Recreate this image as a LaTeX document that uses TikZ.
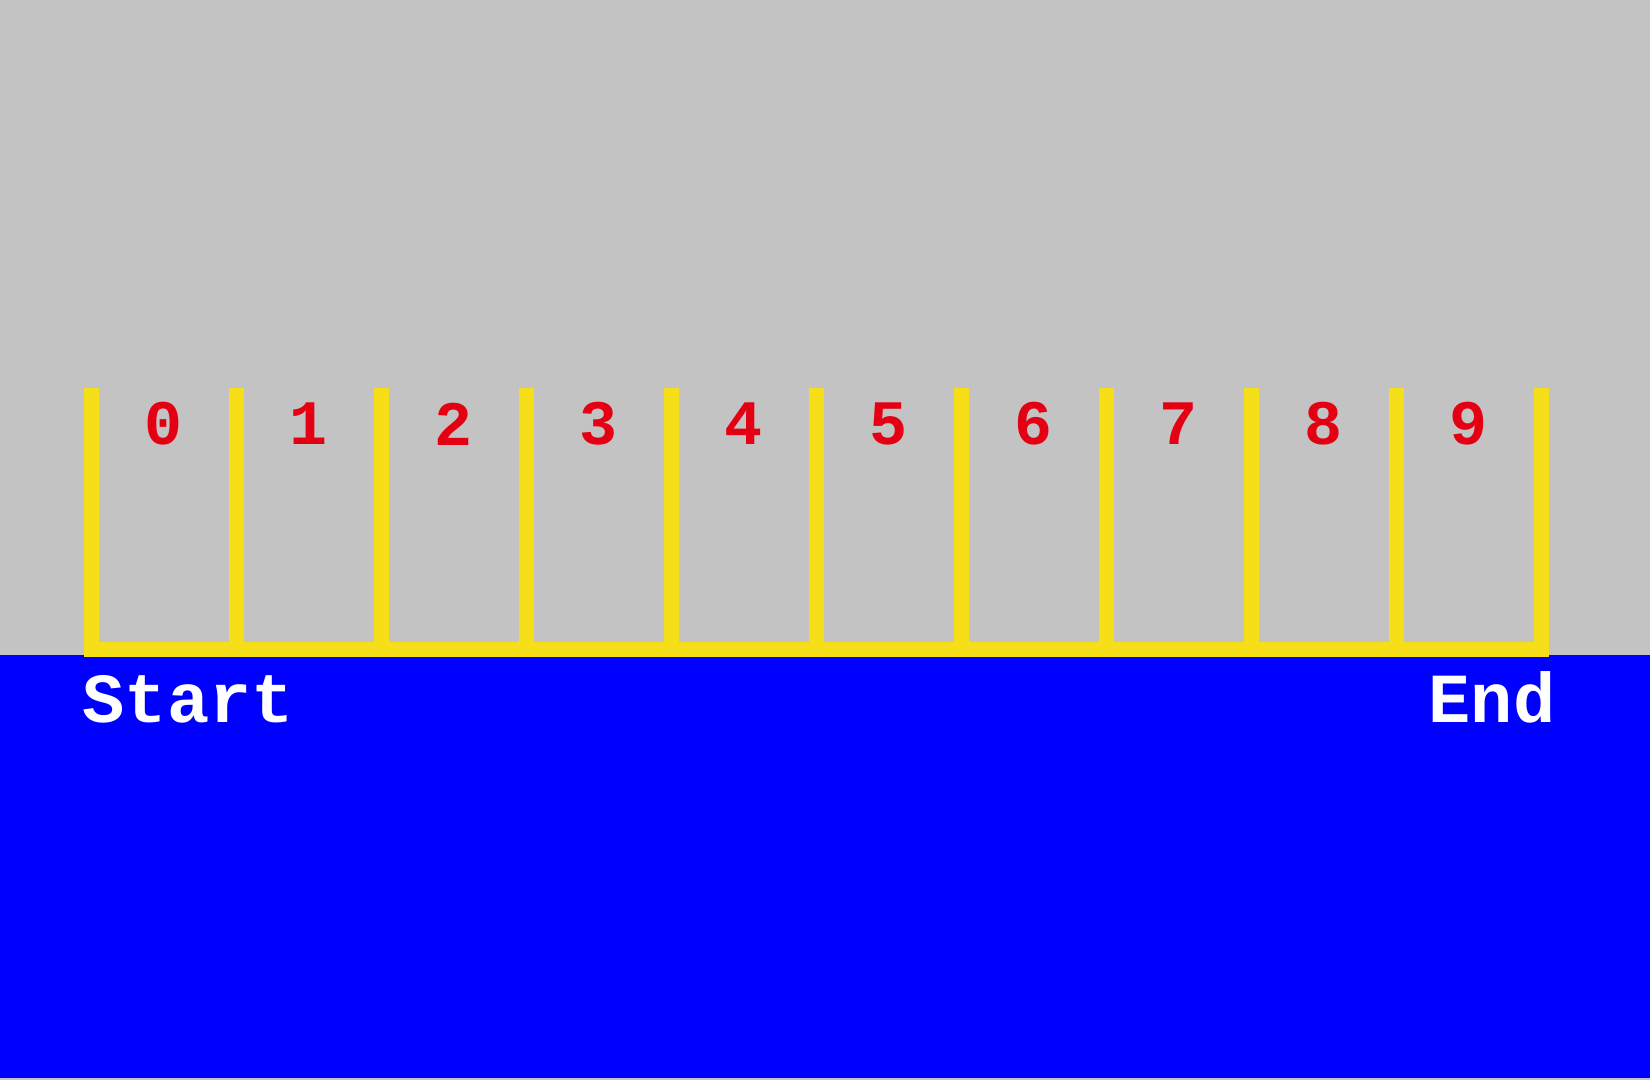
\documentclass[tikz,border=0pt]{standalone}
\usepackage{fontspec}
\setmonofont{Liberation Mono}
\definecolor{bggray}{RGB}{195,195,195}
\definecolor{barred}{RGB}{228,0,18}
\definecolor{baryellow}{RGB}{246,223,24}
\begin{document}
\begin{tikzpicture}[x=0.01cm,y=-0.01cm,
        digit/.style={text=barred,font=\ttfamily\bfseries\fontsize{18}{22}\selectfont,inner sep=0pt},
        lbl/.style={text=white,font=\ttfamily\bfseries\fontsize{20}{24}\selectfont,inner sep=0pt}]
        \fill[bggray] (0,0) rectangle (1650,1080);
        \fill[blue] (0,655) rectangle (1650,1078);
        \useasboundingbox (0,0) rectangle (1650,1080);

        \fill[baryellow] (84,642) rectangle (1549,657);
        \foreach \i in {0,...,10}
            \fill[baryellow] (84+145*\i,388) rectangle (99+145*\i,657);
        \foreach \i in {0,...,9}
            \node (d\i) [digit] at (163+145*\i,424) {\i};

        \node (start) [lbl, anchor=base west] at (82,723) {Start};
        \node (fin) [lbl, anchor=base east] at (1556,723) {End};
    \end{tikzpicture}
\end{document}
